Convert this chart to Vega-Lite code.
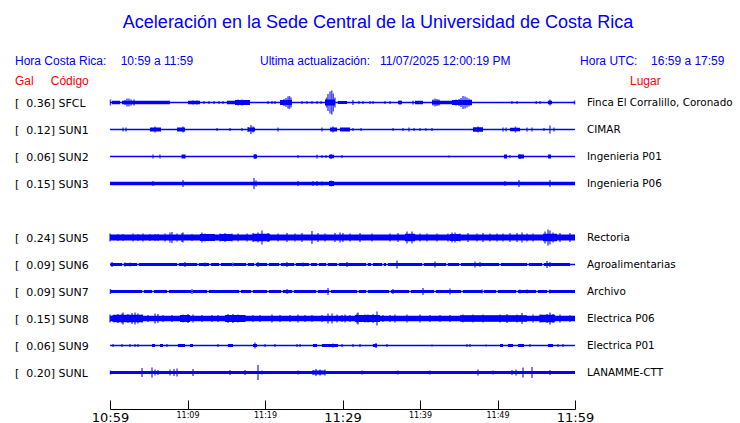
{
  "$schema": "https://vega.github.io/schema/vega-lite/v6.json",
  "width": 465,
  "height": 297,
  "autosize": {"type": "none"},
  "padding": {"left": 110, "right": 165, "top": 89, "bottom": 37},
  "background": "white",
  "config": {"view": {"stroke": null}},
  "datasets": {
    "stations": [
      {"s": "SFCL", "g": 0.36, "place": "Finca El Corralillo, Coronado"},
      {"s": "SUN1", "g": 0.12, "place": "CIMAR"},
      {"s": "SUN2", "g": 0.06, "place": "Ingenieria P01"},
      {"s": "SUN3", "g": 0.15, "place": "Ingenieria P06"},
      {"s": "SUN5", "g": 0.24, "place": "Rectoria"},
      {"s": "SUN6", "g": 0.09, "place": "Agroalimentarias"},
      {"s": "SUN7", "g": 0.09, "place": "Archivo"},
      {"s": "SUN8", "g": 0.15, "place": "Electrica P06"},
      {"s": "SUN9", "g": 0.06, "place": "Electrica P01"},
      {"s": "SUNL", "g": 0.20, "place": "LANAMME-CTT"}
    ],
    "bands": [
      {"s":"SFCL","t0":0,"t1":60,"w":1.3},
      {"s":"SFCL","t0":0.26,"t1":1.29,"w":3.5},
      {"s":"SFCL","t0":1.55,"t1":7.74,"w":3.5},
      {"s":"SFCL","t0":10.06,"t1":11.61,"w":3.5},
      {"s":"SFCL","t0":15.1,"t1":16.13,"w":3.5},
      {"s":"SFCL","t0":16.13,"t1":18.06,"w":5},
      {"s":"SFCL","t0":21.94,"t1":23.48,"w":5},
      {"s":"SFCL","t0":27.74,"t1":29.03,"w":6},
      {"s":"SFCL","t0":29.4,"t1":30.58,"w":3},
      {"s":"SFCL","t0":37.16,"t1":37.68,"w":3.5},
      {"s":"SFCL","t0":39.35,"t1":40.39,"w":3.5},
      {"s":"SFCL","t0":41.55,"t1":42.58,"w":4},
      {"s":"SFCL","t0":42.58,"t1":44.13,"w":3.5},
      {"s":"SFCL","t0":44.13,"t1":46.71,"w":5},
      {"s":"SFCL","t0":56.5,"t1":57.03,"w":3.5},

      {"s":"SUN1","t0":0,"t1":60,"w":1.3},
      {"s":"SUN1","t0":5.16,"t1":6.58,"w":4},
      {"s":"SUN1","t0":8.65,"t1":9.68,"w":4},
      {"s":"SUN1","t0":17.81,"t1":18.71,"w":4},
      {"s":"SUN1","t0":28.39,"t1":29.29,"w":4},
      {"s":"SUN1","t0":29.68,"t1":30.97,"w":4},
      {"s":"SUN1","t0":46.84,"t1":48.13,"w":4.5},
      {"s":"SUN1","t0":51.61,"t1":52.9,"w":3.5},

      {"s":"SUN2","t0":0,"t1":60,"w":1.3},
      {"s":"SUN2","t0":9.23,"t1":9.74,"w":4},
      {"s":"SUN2","t0":18.52,"t1":18.97,"w":4},
      {"s":"SUN2","t0":28.26,"t1":28.9,"w":3.5},
      {"s":"SUN2","t0":50.84,"t1":51.23,"w":4},
      {"s":"SUN2","t0":52.65,"t1":53.42,"w":4},
      {"s":"SUN2","t0":56.52,"t1":56.9,"w":4},

      {"s":"SUN3","t0":0,"t1":60,"w":3.5},
      {"s":"SUN3","t0":28.26,"t1":28.9,"w":5},

      {"s":"SUN5","t0":0,"t1":60,"w":6},
      {"s":"SUN5","t0":11.61,"t1":13.55,"w":7},
      {"s":"SUN5","t0":14.2,"t1":15.7,"w":7},
      {"s":"SUN5","t0":18.45,"t1":20.65,"w":7.5},
      {"s":"SUN5","t0":38.06,"t1":39.35,"w":7.5},
      {"s":"SUN5","t0":43.87,"t1":45.16,"w":7},
      {"s":"SUN5","t0":55.87,"t1":57.68,"w":7.5},

      {"s":"SUN6","t0":0,"t1":60,"w":1.3},
      {"s":"SUN6","t0":0.06,"t1":1.55,"w":3},
      {"s":"SUN6","t0":1.81,"t1":3.48,"w":3},
      {"s":"SUN6","t0":3.74,"t1":8.65,"w":3},
      {"s":"SUN6","t0":8.9,"t1":11.23,"w":3},
      {"s":"SUN6","t0":11.48,"t1":12.77,"w":3},
      {"s":"SUN6","t0":13.03,"t1":14.06,"w":3},
      {"s":"SUN6","t0":14.32,"t1":15.74,"w":3},
      {"s":"SUN6","t0":16,"t1":17.55,"w":3},
      {"s":"SUN6","t0":17.81,"t1":18.58,"w":3},
      {"s":"SUN6","t0":18.84,"t1":20.26,"w":3},
      {"s":"SUN6","t0":20.52,"t1":21.81,"w":3},
      {"s":"SUN6","t0":22.06,"t1":23.74,"w":3},
      {"s":"SUN6","t0":24,"t1":25.68,"w":3},
      {"s":"SUN6","t0":25.94,"t1":26.71,"w":3},
      {"s":"SUN6","t0":26.97,"t1":27.87,"w":3},
      {"s":"SUN6","t0":28.13,"t1":29.29,"w":3},
      {"s":"SUN6","t0":29.55,"t1":33.03,"w":3},
      {"s":"SUN6","t0":33.29,"t1":33.68,"w":3},
      {"s":"SUN6","t0":33.94,"t1":35.1,"w":3},
      {"s":"SUN6","t0":35.35,"t1":35.61,"w":3},
      {"s":"SUN6","t0":35.87,"t1":40.26,"w":3},
      {"s":"SUN6","t0":40.52,"t1":43.35,"w":3},
      {"s":"SUN6","t0":43.61,"t1":45.03,"w":3},
      {"s":"SUN6","t0":45.29,"t1":50.19,"w":3},
      {"s":"SUN6","t0":50.45,"t1":53.81,"w":3},
      {"s":"SUN6","t0":54.06,"t1":55.74,"w":3},
      {"s":"SUN6","t0":56,"t1":59.35,"w":3},

      {"s":"SUN7","t0":0,"t1":60,"w":1.3},
      {"s":"SUN7","t0":0.06,"t1":4.13,"w":3},
      {"s":"SUN7","t0":4.39,"t1":5.42,"w":3},
      {"s":"SUN7","t0":5.68,"t1":7.35,"w":3},
      {"s":"SUN7","t0":7.61,"t1":10.45,"w":3},
      {"s":"SUN7","t0":10.71,"t1":12.52,"w":3},
      {"s":"SUN7","t0":12.77,"t1":16.65,"w":3},
      {"s":"SUN7","t0":16.9,"t1":18.19,"w":3},
      {"s":"SUN7","t0":18.45,"t1":20.26,"w":3},
      {"s":"SUN7","t0":20.52,"t1":22.06,"w":3},
      {"s":"SUN7","t0":22.32,"t1":23.48,"w":3},
      {"s":"SUN7","t0":23.74,"t1":26.58,"w":3},
      {"s":"SUN7","t0":26.84,"t1":28.26,"w":3},
      {"s":"SUN7","t0":28.52,"t1":31.87,"w":3},
      {"s":"SUN7","t0":32.13,"t1":33.03,"w":3},
      {"s":"SUN7","t0":33.29,"t1":36,"w":3},
      {"s":"SUN7","t0":36.26,"t1":38.58,"w":3},
      {"s":"SUN7","t0":38.84,"t1":41.81,"w":3},
      {"s":"SUN7","t0":42.06,"t1":45.29,"w":3},
      {"s":"SUN7","t0":45.55,"t1":48,"w":3},
      {"s":"SUN7","t0":48.26,"t1":49.81,"w":3},
      {"s":"SUN7","t0":50.06,"t1":52.39,"w":3},
      {"s":"SUN7","t0":52.65,"t1":54.97,"w":3},
      {"s":"SUN7","t0":55.23,"t1":56.39,"w":3},
      {"s":"SUN7","t0":56.65,"t1":60,"w":3},

      {"s":"SUN8","t0":0,"t1":60,"w":5.5},
      {"s":"SUN8","t0":0.39,"t1":4.26,"w":7.5},
      {"s":"SUN8","t0":9.03,"t1":10.32,"w":7},
      {"s":"SUN8","t0":14.84,"t1":17.42,"w":7},
      {"s":"SUN8","t0":31.61,"t1":34.84,"w":7},
      {"s":"SUN8","t0":45.16,"t1":53.81,"w":6.5},
      {"s":"SUN8","t0":55.48,"t1":57.42,"w":7.5},

      {"s":"SUN9","t0":0,"t1":60,"w":1.3},
      {"s":"SUN9","t0":5.42,"t1":5.81,"w":3},
      {"s":"SUN9","t0":6.45,"t1":6.84,"w":3},
      {"s":"SUN9","t0":8.77,"t1":9.68,"w":3},
      {"s":"SUN9","t0":10.32,"t1":10.71,"w":3},
      {"s":"SUN9","t0":15.23,"t1":15.87,"w":3},
      {"s":"SUN9","t0":18.45,"t1":18.97,"w":3},
      {"s":"SUN9","t0":26.19,"t1":26.71,"w":3},
      {"s":"SUN9","t0":27.35,"t1":29.42,"w":3},
      {"s":"SUN9","t0":33.94,"t1":34.45,"w":3},
      {"s":"SUN9","t0":50.32,"t1":50.71,"w":3},
      {"s":"SUN9","t0":51.35,"t1":52,"w":3},
      {"s":"SUN9","t0":52.65,"t1":53.42,"w":3},
      {"s":"SUN9","t0":56.52,"t1":57.16,"w":3},

      {"s":"SUNL","t0":0,"t1":60,"w":3.2},
      {"s":"SUNL","t0":26.19,"t1":27.74,"w":4}
    ],
    "spikes": [
      {"s":"SFCL","t":0.06,"a":6},{"s":"SFCL","t":1.94,"a":5},{"s":"SFCL","t":2.19,"a":8},{"s":"SFCL","t":2.45,"a":8},
      {"s":"SFCL","t":2.71,"a":6},{"s":"SFCL","t":3.1,"a":6},{"s":"SFCL","t":10.71,"a":4},{"s":"SFCL","t":11.2,"a":4},
      {"s":"SFCL","t":12.13,"a":3},{"s":"SFCL","t":12.77,"a":3},{"s":"SFCL","t":13.42,"a":3},{"s":"SFCL","t":14.06,"a":3},
      {"s":"SFCL","t":14.58,"a":3},{"s":"SFCL","t":16.52,"a":6},{"s":"SFCL","t":17.03,"a":6},{"s":"SFCL","t":17.55,"a":5},
      {"s":"SFCL","t":20.39,"a":3},{"s":"SFCL","t":20.9,"a":3},{"s":"SFCL","t":21.29,"a":3},{"s":"SFCL","t":22.06,"a":5},
      {"s":"SFCL","t":22.45,"a":7},{"s":"SFCL","t":22.71,"a":9},{"s":"SFCL","t":22.97,"a":12},{"s":"SFCL","t":23.16,"a":13},
      {"s":"SFCL","t":23.35,"a":10},{"s":"SFCL","t":24.77,"a":3},{"s":"SFCL","t":25.42,"a":3},{"s":"SFCL","t":26.06,"a":3},
      {"s":"SFCL","t":26.71,"a":3},{"s":"SFCL","t":27.23,"a":3},{"s":"SFCL","t":27.95,"a":10},{"s":"SFCL","t":28.13,"a":17},
      {"s":"SFCL","t":28.39,"a":22},{"s":"SFCL","t":28.61,"a":24},{"s":"SFCL","t":28.81,"a":18},{"s":"SFCL","t":29.03,"a":10},
      {"s":"SFCL","t":29.94,"a":3},{"s":"SFCL","t":30.32,"a":3},{"s":"SFCL","t":31.35,"a":5},{"s":"SFCL","t":32.13,"a":3},
      {"s":"SFCL","t":32.65,"a":3},{"s":"SFCL","t":33.55,"a":3},{"s":"SFCL","t":33.94,"a":3},{"s":"SFCL","t":35.48,"a":3},
      {"s":"SFCL","t":36.13,"a":3},{"s":"SFCL","t":37.42,"a":4},{"s":"SFCL","t":39.1,"a":4},{"s":"SFCL","t":41.68,"a":6},
      {"s":"SFCL","t":41.94,"a":8},{"s":"SFCL","t":42.19,"a":7},{"s":"SFCL","t":42.45,"a":6},{"s":"SFCL","t":44.26,"a":5},
      {"s":"SFCL","t":44.65,"a":6},{"s":"SFCL","t":45.03,"a":7},{"s":"SFCL","t":45.29,"a":9},{"s":"SFCL","t":45.55,"a":13},
      {"s":"SFCL","t":45.81,"a":12},{"s":"SFCL","t":46.06,"a":10},{"s":"SFCL","t":46.32,"a":8},{"s":"SFCL","t":46.58,"a":6},
      {"s":"SFCL","t":51.87,"a":3},{"s":"SFCL","t":52.52,"a":3},{"s":"SFCL","t":55,"a":3},{"s":"SFCL","t":55.48,"a":3},
      {"s":"SFCL","t":56.77,"a":6},{"s":"SFCL","t":59.94,"a":4},

      {"s":"SUN1","t":1.68,"a":4},{"s":"SUN1","t":2.06,"a":4},{"s":"SUN1","t":5.81,"a":6},{"s":"SUN1","t":9.42,"a":6},
      {"s":"SUN1","t":13.81,"a":3},{"s":"SUN1","t":15.48,"a":3},{"s":"SUN1","t":17.03,"a":3},{"s":"SUN1","t":17.81,"a":5},
      {"s":"SUN1","t":18.19,"a":9},{"s":"SUN1","t":18.45,"a":6},{"s":"SUN1","t":21.68,"a":4},{"s":"SUN1","t":27.35,"a":4},
      {"s":"SUN1","t":28.77,"a":6},{"s":"SUN1","t":31.35,"a":3},{"s":"SUN1","t":32.39,"a":3},{"s":"SUN1","t":36.52,"a":3},
      {"s":"SUN1","t":37.81,"a":3},{"s":"SUN1","t":38.58,"a":4},{"s":"SUN1","t":39.23,"a":3},{"s":"SUN1","t":40,"a":3},
      {"s":"SUN1","t":40.77,"a":3},{"s":"SUN1","t":41.55,"a":3},{"s":"SUN1","t":47.48,"a":6},{"s":"SUN1","t":50.71,"a":4},
      {"s":"SUN1","t":51.1,"a":4},{"s":"SUN1","t":52.32,"a":6},{"s":"SUN1","t":53.81,"a":4},{"s":"SUN1","t":54.45,"a":4},
      {"s":"SUN1","t":56,"a":3},{"s":"SUN1","t":56.77,"a":8},{"s":"SUN1","t":57.29,"a":4},

      {"s":"SUN2","t":5.55,"a":4},{"s":"SUN2","t":6.45,"a":4},{"s":"SUN2","t":18.71,"a":5},{"s":"SUN2","t":24.26,"a":3},
      {"s":"SUN2","t":26.71,"a":4},{"s":"SUN2","t":27.35,"a":3},{"s":"SUN2","t":27.87,"a":3},{"s":"SUN2","t":28.52,"a":5},
      {"s":"SUN2","t":29.94,"a":3},{"s":"SUN2","t":43.74,"a":2},{"s":"SUN2","t":51.61,"a":3},{"s":"SUN2","t":52.9,"a":5},

      {"s":"SUN3","t":5.55,"a":5},{"s":"SUN3","t":9.42,"a":7},{"s":"SUN3","t":18.58,"a":11},{"s":"SUN3","t":18.84,"a":6},
      {"s":"SUN3","t":24.26,"a":5},{"s":"SUN3","t":26.19,"a":5},{"s":"SUN3","t":26.71,"a":5},{"s":"SUN3","t":27.35,"a":4},
      {"s":"SUN3","t":28.52,"a":6},{"s":"SUN3","t":50.97,"a":5},{"s":"SUN3","t":52.77,"a":7},{"s":"SUN3","t":56.77,"a":7},

      {"s":"SUN5","t":0,"a":8},{"s":"SUN5","t":1.03,"a":7},{"s":"SUN5","t":1.68,"a":7},{"s":"SUN5","t":2.97,"a":8},
      {"s":"SUN5","t":3.61,"a":7},{"s":"SUN5","t":4.26,"a":8},{"s":"SUN5","t":5.16,"a":7},{"s":"SUN5","t":5.81,"a":7},
      {"s":"SUN5","t":6.19,"a":7},{"s":"SUN5","t":7.1,"a":8},{"s":"SUN5","t":7.74,"a":10},{"s":"SUN5","t":8,"a":11},
      {"s":"SUN5","t":8.65,"a":8},{"s":"SUN5","t":9.29,"a":9},{"s":"SUN5","t":9.42,"a":10},{"s":"SUN5","t":10.58,"a":7},
      {"s":"SUN5","t":11.87,"a":10},{"s":"SUN5","t":12.26,"a":8},{"s":"SUN5","t":14.19,"a":8},{"s":"SUN5","t":14.84,"a":9},
      {"s":"SUN5","t":15.74,"a":8},{"s":"SUN5","t":16.52,"a":8},{"s":"SUN5","t":17.68,"a":8},{"s":"SUN5","t":18.45,"a":9},
      {"s":"SUN5","t":19.1,"a":10},{"s":"SUN5","t":19.61,"a":14},{"s":"SUN5","t":20.39,"a":9},{"s":"SUN5","t":21.68,"a":8},
      {"s":"SUN5","t":22.84,"a":9},{"s":"SUN5","t":23.87,"a":8},{"s":"SUN5","t":24.77,"a":9},{"s":"SUN5","t":26.06,"a":13},
      {"s":"SUN5","t":26.84,"a":9},{"s":"SUN5","t":27.74,"a":8},{"s":"SUN5","t":29.03,"a":9},{"s":"SUN5","t":29.68,"a":10},
      {"s":"SUN5","t":30.06,"a":9},{"s":"SUN5","t":30.97,"a":8},{"s":"SUN5","t":32.26,"a":9},{"s":"SUN5","t":33.81,"a":8},
      {"s":"SUN5","t":36.13,"a":8},{"s":"SUN5","t":37.16,"a":9},{"s":"SUN5","t":38.32,"a":12},{"s":"SUN5","t":38.97,"a":12},
      {"s":"SUN5","t":40,"a":8},{"s":"SUN5","t":40.9,"a":8},{"s":"SUN5","t":42.19,"a":8},{"s":"SUN5","t":43.61,"a":8},
      {"s":"SUN5","t":44.13,"a":10},{"s":"SUN5","t":44.52,"a":10},{"s":"SUN5","t":45.16,"a":8},{"s":"SUN5","t":46.19,"a":9},
      {"s":"SUN5","t":47.35,"a":8},{"s":"SUN5","t":48.13,"a":9},{"s":"SUN5","t":49.03,"a":8},{"s":"SUN5","t":49.94,"a":8},
      {"s":"SUN5","t":50.71,"a":8},{"s":"SUN5","t":51.61,"a":9},{"s":"SUN5","t":52.52,"a":9},{"s":"SUN5","t":53.16,"a":10},
      {"s":"SUN5","t":53.81,"a":8},{"s":"SUN5","t":54.58,"a":8},{"s":"SUN5","t":56.13,"a":12},{"s":"SUN5","t":56.52,"a":16},
      {"s":"SUN5","t":56.77,"a":14},{"s":"SUN5","t":57.16,"a":10},{"s":"SUN5","t":58.06,"a":9},{"s":"SUN5","t":59.35,"a":9},

      {"s":"SUN6","t":0.26,"a":5},{"s":"SUN6","t":1.94,"a":4},{"s":"SUN6","t":2.58,"a":4},{"s":"SUN6","t":9.68,"a":5},
      {"s":"SUN6","t":12.26,"a":4},{"s":"SUN6","t":15.87,"a":4},{"s":"SUN6","t":19.1,"a":5},{"s":"SUN6","t":22.84,"a":5},
      {"s":"SUN6","t":24.9,"a":4},{"s":"SUN6","t":30.58,"a":5},{"s":"SUN6","t":37.03,"a":8},{"s":"SUN6","t":41.94,"a":6},
      {"s":"SUN6","t":47.1,"a":6},{"s":"SUN6","t":47.74,"a":5},{"s":"SUN6","t":56.39,"a":7},{"s":"SUN6","t":56.77,"a":5},

      {"s":"SUN7","t":0.06,"a":5},{"s":"SUN7","t":10.58,"a":5},{"s":"SUN7","t":22.84,"a":5},{"s":"SUN7","t":28.13,"a":7},
      {"s":"SUN7","t":36.52,"a":5},{"s":"SUN7","t":40.39,"a":7},{"s":"SUN7","t":43.87,"a":6},{"s":"SUN7","t":48,"a":4},
      {"s":"SUN7","t":52.9,"a":4},{"s":"SUN7","t":53.81,"a":4},{"s":"SUN7","t":56.77,"a":4},

      {"s":"SUN8","t":0,"a":8},{"s":"SUN8","t":0.39,"a":7},{"s":"SUN8","t":1.03,"a":9},{"s":"SUN8","t":1.55,"a":10},
      {"s":"SUN8","t":1.68,"a":12},{"s":"SUN8","t":2.32,"a":9},{"s":"SUN8","t":2.84,"a":11},{"s":"SUN8","t":3.23,"a":12},
      {"s":"SUN8","t":3.61,"a":10},{"s":"SUN8","t":4.13,"a":8},{"s":"SUN8","t":4.9,"a":7},{"s":"SUN8","t":5.81,"a":10},
      {"s":"SUN8","t":6.19,"a":9},{"s":"SUN8","t":6.84,"a":7},{"s":"SUN8","t":8,"a":7},{"s":"SUN8","t":9.42,"a":8},
      {"s":"SUN8","t":10.06,"a":9},{"s":"SUN8","t":10.71,"a":8},{"s":"SUN8","t":11.87,"a":7},{"s":"SUN8","t":13.16,"a":7},
      {"s":"SUN8","t":13.94,"a":7},{"s":"SUN8","t":15.23,"a":9},{"s":"SUN8","t":15.87,"a":9},{"s":"SUN8","t":16.52,"a":8},
      {"s":"SUN8","t":17.42,"a":7},{"s":"SUN8","t":18.45,"a":7},{"s":"SUN8","t":19.35,"a":7},{"s":"SUN8","t":20.9,"a":8},
      {"s":"SUN8","t":21.94,"a":7},{"s":"SUN8","t":23.23,"a":7},{"s":"SUN8","t":24.26,"a":8},{"s":"SUN8","t":25.16,"a":7},
      {"s":"SUN8","t":26.06,"a":7},{"s":"SUN8","t":27.35,"a":7},{"s":"SUN8","t":28.13,"a":10},{"s":"SUN8","t":28.65,"a":10},
      {"s":"SUN8","t":29.29,"a":8},{"s":"SUN8","t":29.94,"a":7},{"s":"SUN8","t":30.32,"a":8},{"s":"SUN8","t":30.97,"a":7},
      {"s":"SUN8","t":31.87,"a":10},{"s":"SUN8","t":32,"a":12},{"s":"SUN8","t":32.9,"a":8},{"s":"SUN8","t":33.29,"a":8},
      {"s":"SUN8","t":33.94,"a":9},{"s":"SUN8","t":34.45,"a":14},{"s":"SUN8","t":35.23,"a":7},{"s":"SUN8","t":36.13,"a":7},
      {"s":"SUN8","t":36.77,"a":8},{"s":"SUN8","t":38.32,"a":8},{"s":"SUN8","t":40,"a":8},{"s":"SUN8","t":41.29,"a":7},
      {"s":"SUN8","t":42.58,"a":7},{"s":"SUN8","t":43.87,"a":7},{"s":"SUN8","t":45.55,"a":8},{"s":"SUN8","t":46.84,"a":8},
      {"s":"SUN8","t":48.13,"a":8},{"s":"SUN8","t":50.32,"a":8},{"s":"SUN8","t":51.23,"a":9},{"s":"SUN8","t":52.52,"a":8},
      {"s":"SUN8","t":53.16,"a":11},{"s":"SUN8","t":54.58,"a":8},{"s":"SUN8","t":55.48,"a":8},{"s":"SUN8","t":56.39,"a":9},
      {"s":"SUN8","t":56.77,"a":12},{"s":"SUN8","t":57.16,"a":9},{"s":"SUN8","t":58.06,"a":8},{"s":"SUN8","t":59.35,"a":7},

      {"s":"SUN9","t":0.39,"a":3},{"s":"SUN9","t":1.55,"a":3},{"s":"SUN9","t":2.58,"a":3},{"s":"SUN9","t":3.23,"a":3},
      {"s":"SUN9","t":3.61,"a":3},{"s":"SUN9","t":7.35,"a":3},{"s":"SUN9","t":13.94,"a":3},{"s":"SUN9","t":18.71,"a":6},
      {"s":"SUN9","t":20,"a":3},{"s":"SUN9","t":21.29,"a":3},{"s":"SUN9","t":24.13,"a":3},{"s":"SUN9","t":24.52,"a":3},
      {"s":"SUN9","t":28.77,"a":4},{"s":"SUN9","t":29.94,"a":3},{"s":"SUN9","t":31.35,"a":3},{"s":"SUN9","t":32.26,"a":3},
      {"s":"SUN9","t":34.32,"a":5},{"s":"SUN9","t":35.74,"a":3},{"s":"SUN9","t":41.55,"a":2},{"s":"SUN9","t":46.06,"a":3},
      {"s":"SUN9","t":46.45,"a":3},{"s":"SUN9","t":48.52,"a":2},{"s":"SUN9","t":54.19,"a":3},{"s":"SUN9","t":57.81,"a":3},
      {"s":"SUN9","t":58.45,"a":3},

      {"s":"SUNL","t":0.06,"a":4},{"s":"SUNL","t":4.13,"a":9},{"s":"SUNL","t":5.42,"a":10},{"s":"SUNL","t":5.81,"a":6},
      {"s":"SUNL","t":6.19,"a":5},{"s":"SUNL","t":7.74,"a":6},{"s":"SUNL","t":8.26,"a":7},{"s":"SUNL","t":8.65,"a":8},
      {"s":"SUNL","t":10.71,"a":7},{"s":"SUNL","t":15.48,"a":5},{"s":"SUNL","t":17.42,"a":5},{"s":"SUNL","t":19.1,"a":15},
      {"s":"SUNL","t":19.61,"a":4},{"s":"SUNL","t":22.32,"a":3},{"s":"SUNL","t":24.26,"a":4},{"s":"SUNL","t":26.19,"a":5},
      {"s":"SUNL","t":26.58,"a":7},{"s":"SUNL","t":27.1,"a":6},{"s":"SUNL","t":27.74,"a":6},{"s":"SUNL","t":32.52,"a":4},
      {"s":"SUNL","t":37.16,"a":4},{"s":"SUNL","t":41.29,"a":4},{"s":"SUNL","t":47.48,"a":6},{"s":"SUNL","t":49.42,"a":4},
      {"s":"SUNL","t":51.87,"a":5},{"s":"SUNL","t":52.39,"a":6},{"s":"SUNL","t":53.29,"a":10},{"s":"SUNL","t":54.45,"a":11},
      {"s":"SUNL","t":56.77,"a":5}
    ]
  },
  "layer": [
    {
      "data": {"name": "bands"},
      "mark": {"type": "rule", "color": "#0000ff", "strokeCap": "butt"},
      "encoding": {
        "x": {
          "field": "t0", "type": "quantitative",
          "scale": {"domain": [0, 60], "nice": false, "zero": false},
          "axis": {
            "values": [0, 5, 10, 15, 20, 25, 30, 35, 40, 45, 50, 55, 60],
            "title": null, "grid": false, "offset": 23,
            "domain": true,
            "domainColor": "#000000", "tickColor": "#000000", "domainWidth": 1, "tickWidth": 1,
            "tickSize": -9,
            "labelExpr": "datum.value % 10 ? '' : (10 + floor((59 + datum.value) / 60)) + ':' + (((59 + datum.value) % 60) < 10 ? '0' : '') + ((59 + datum.value) % 60)",
            "labelFont": "DejaVu Sans", "labelColor": "#000000",
            "labelFontSize": {"condition": {"test": "datum.value % 30 === 0", "value": 13}, "value": 8},
            "labelFlush": false, "labelOverlap": false, "labelBound": false, "labelPadding": 11
          }
        },
        "x2": {"field": "t1"},
        "y": {
          "field": "s", "type": "nominal",
          "scale": {"type": "point", "padding": 0.5, "domain": ["SFCL","SUN1","SUN2","SUN3","SUN4","SUN5","SUN6","SUN7","SUN8","SUN9","SUNL"]},
          "axis": null
        },
        "strokeWidth": {"field": "w", "type": "quantitative", "scale": {"domain": [0, 10], "range": [0, 10]}, "legend": null}
      }
    },
    {
      "data": {"name": "spikes"},
      "mark": {"type": "tick", "orient": "vertical", "color": "#0000ff", "thickness": 1.5},
      "encoding": {
        "x": {"field": "t", "type": "quantitative"},
        "y": {"field": "s", "type": "nominal"},
        "size": {"field": "a", "type": "quantitative", "scale": {"domain": [0, 30], "range": [0, 30]}, "legend": null}
      }
    },
    {
      "data": {"name": "stations"},
      "transform": [{"calculate": "'[\u00a0\u00a0' + format(datum.g, '.2f') + ']\u00a0' + datum.s", "as": "lbl"}],
      "mark": {"type": "text", "align": "left", "baseline": "middle", "dy": 1, "font": "DejaVu Sans", "fontSize": 11, "color": "#000000"},
      "encoding": {
        "x": {"datum": -12.26, "type": "quantitative"},
        "y": {"field": "s", "type": "nominal"},
        "text": {"field": "lbl"}
      }
    },
    {
      "data": {"name": "stations"},
      "mark": {"type": "text", "align": "left", "baseline": "middle", "dy": 0.5, "font": "DejaVu Sans", "fontSize": 10.4, "color": "#000000"},
      "encoding": {
        "x": {"datum": 61.55, "type": "quantitative"},
        "y": {"field": "s", "type": "nominal"},
        "text": {"field": "place"}
      }
    },
    {
      "data": {"values": [{}]},
      "mark": {"type": "text", "align": "center", "baseline": "alphabetic", "dy": -74.5, "font": "Liberation Sans", "fontSize": 18, "color": "#0000ff"},
      "encoding": {"x": {"datum": 34.58, "type": "quantitative"}, "y": {"datum": "SFCL", "type": "nominal"}, "text": {"value": "Aceleración en la Sede Central de la Universidad de Costa Rica"}}
    },
    {
      "data": {"values": [{}]},
      "mark": {"type": "text", "align": "left", "baseline": "alphabetic", "dy": -37.5, "font": "Liberation Sans", "fontSize": 12, "color": "#0000ff"},
      "encoding": {"x": {"datum": -12.26, "type": "quantitative"}, "y": {"datum": "SFCL", "type": "nominal"}, "text": {"value": "Hora Costa Rica:"}}
    },
    {
      "data": {"values": [{}]},
      "mark": {"type": "text", "align": "left", "baseline": "alphabetic", "dy": -37.5, "font": "Liberation Sans", "fontSize": 12, "color": "#0000ff"},
      "encoding": {"x": {"datum": 1.38, "type": "quantitative"}, "y": {"datum": "SFCL", "type": "nominal"}, "text": {"value": "10:59 a 11:59"}}
    },
    {
      "data": {"values": [{}]},
      "mark": {"type": "text", "align": "left", "baseline": "alphabetic", "dy": -37.5, "font": "Liberation Sans", "fontSize": 12, "color": "#0000ff"},
      "encoding": {"x": {"datum": 19.35, "type": "quantitative"}, "y": {"datum": "SFCL", "type": "nominal"}, "text": {"value": "Ultima actualización:"}}
    },
    {
      "data": {"values": [{}]},
      "mark": {"type": "text", "align": "left", "baseline": "alphabetic", "dy": -37.5, "font": "Liberation Sans", "fontSize": 12, "color": "#0000ff"},
      "encoding": {"x": {"datum": 34.84, "type": "quantitative"}, "y": {"datum": "SFCL", "type": "nominal"}, "text": {"value": "11/07/2025 12:00:19 PM"}}
    },
    {
      "data": {"values": [{}]},
      "mark": {"type": "text", "align": "left", "baseline": "alphabetic", "dy": -37.5, "font": "Liberation Sans", "fontSize": 12, "color": "#0000ff"},
      "encoding": {"x": {"datum": 60.65, "type": "quantitative"}, "y": {"datum": "SFCL", "type": "nominal"}, "text": {"value": "Hora UTC:"}}
    },
    {
      "data": {"values": [{}]},
      "mark": {"type": "text", "align": "left", "baseline": "alphabetic", "dy": -37.5, "font": "Liberation Sans", "fontSize": 12, "color": "#0000ff"},
      "encoding": {"x": {"datum": 69.81, "type": "quantitative"}, "y": {"datum": "SFCL", "type": "nominal"}, "text": {"value": "16:59 a 17:59"}}
    },
    {
      "data": {"values": [{}]},
      "mark": {"type": "text", "align": "left", "baseline": "alphabetic", "dy": -17.5, "font": "Liberation Sans", "fontSize": 12, "color": "#ff0000"},
      "encoding": {"x": {"datum": -12.26, "type": "quantitative"}, "y": {"datum": "SFCL", "type": "nominal"}, "text": {"value": "Gal"}}
    },
    {
      "data": {"values": [{}]},
      "mark": {"type": "text", "align": "left", "baseline": "alphabetic", "dy": -17.5, "font": "Liberation Sans", "fontSize": 12, "color": "#ff0000"},
      "encoding": {"x": {"datum": -7.65, "type": "quantitative"}, "y": {"datum": "SFCL", "type": "nominal"}, "text": {"value": "Código"}}
    },
    {
      "data": {"values": [{}]},
      "mark": {"type": "text", "align": "left", "baseline": "alphabetic", "dy": -17.5, "font": "Liberation Sans", "fontSize": 12, "color": "#ff0000"},
      "encoding": {"x": {"datum": 67.1, "type": "quantitative"}, "y": {"datum": "SFCL", "type": "nominal"}, "text": {"value": "Lugar"}}
    }
  ]
}
